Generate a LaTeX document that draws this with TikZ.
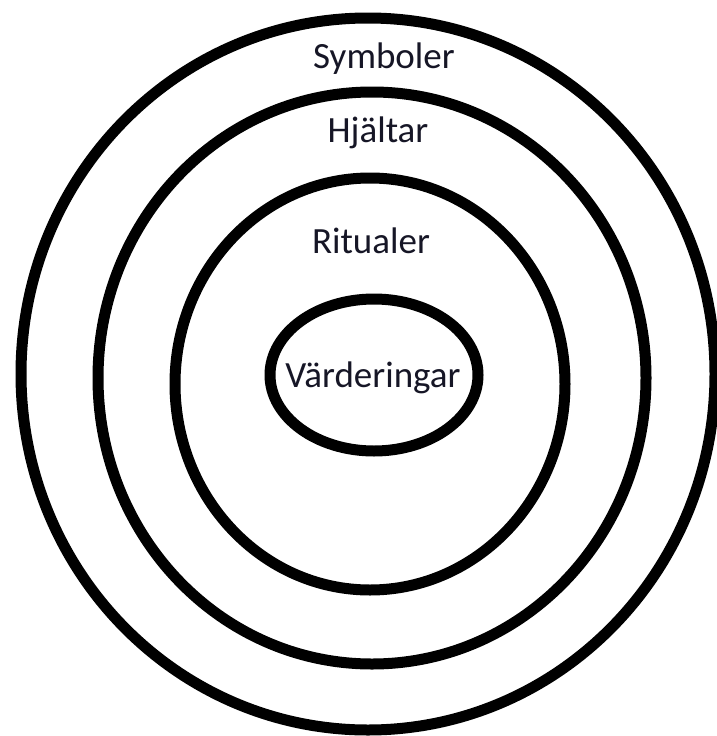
\documentclass[tikz,border=0pt]{standalone}
\usepackage{fontspec}
\setmainfont{Carlito}
\usepackage{tikz}
\definecolor{labelink}{RGB}{22,22,38}

\begin{document}
\begin{tikzpicture}[x=1pt, y=-1pt, every node/.style={font=\fontsize{37}{44}\selectfont, text=labelink, anchor=base, inner sep=0pt}]
	\useasboundingbox (0,0) rectangle (717,736);
	\fill[white] (0,0) rectangle (717,736);
	\draw[line width=11pt] (368,374) ellipse [x radius=347pt, y radius=356pt];
	\draw[line width=11pt] (372,378) ellipse [x radius=274pt, y radius=286pt];
	\draw[line width=11pt] (370,384) ellipse [x radius=195pt, y radius=206pt];
	\draw[line width=11pt] (374,375) ellipse [x radius=104pt, y radius=76pt];
	\node (symboler) at (384,68) {Symboler};
	\node (hjaltar) at (378,142) {Hjältar};
	\node (ritualer) at (371,253) {Ritualer};
	\node (varderingar) at (373,387) {Värderingar};
\end{tikzpicture}
\end{document}
